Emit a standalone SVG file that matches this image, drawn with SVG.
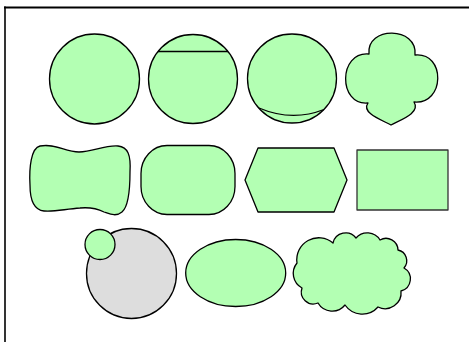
<svg xmlns="http://www.w3.org/2000/svg" width="469" height="342" viewBox="0 0 469 342">
<style>
.s{fill:#b3ffb3;stroke:#000;stroke-width:1.3;stroke-linejoin:round}
.g{fill:#dddddd;stroke:#000;stroke-width:1.3}
.l{fill:none;stroke:#000;stroke-width:1.3}
</style>
<rect width="469" height="342" fill="#fff"/>
<g id="frame">
<line x1="4" y1="7.5" x2="469" y2="7.5" stroke="#000" stroke-width="2"/>
<line x1="5" y1="6.5" x2="5" y2="342" stroke="#000" stroke-width="1.6"/>
</g>
<g id="circle1"><circle class="s" cx="94.5" cy="79" r="45"/></g>
<g id="circle2"><circle class="s" cx="193" cy="79" r="44.5"/><line class="l" x1="158" y1="51.5" x2="228" y2="51.5"/></g>
<g id="circle3"><circle class="s" cx="292" cy="78.5" r="44.5"/><path class="l" d="M259,108 Q292,122 324,109.5"/></g>
<g id="clover"><path class="s" d="M369,54 C366,26 418,26 415,55 C446,52 445,105 414,102 C421,113 400,120 391,125 C382,120 361,113 368,103 C338,106 338,51 369,54 Z"/></g>
<g id="wavy"><path class="s" d="M40,146 C55,143 65,152 79,152 C93,152 104,145 118,146 C128,147 131,155 130,172 C130,190 128,207 122,212 C116,217 110,214 104,212 C96,208 90,207 80,208 C65,209 55,212 44,211 C34,210 30,200 30,185 C29,168 31,148 40,146 Z"/></g>
<g id="roundrect"><rect class="s" x="141" y="145.5" width="94" height="69" rx="26" ry="28"/></g>
<g id="hexagon"><polygon class="s" points="245,180 258,148 334,148 347,180 334,212 258,212"/></g>
<g id="rect"><rect class="s" x="357" y="150" width="91" height="60" style="stroke:#333"/></g>
<g id="bigcircle"><circle class="g" cx="131.5" cy="273.5" r="45"/><circle class="s" cx="100" cy="244.5" r="15"/></g>
<g id="ellipse"><ellipse class="s" cx="235.7" cy="273" rx="50" ry="33.5"/></g>
<g id="cloud"><path class="s" d="M297,263 A22,22 0 0 1 333,243 A13,13 0 0 1 356,238 A15,15 0 0 1 380,240 A12,12 0 0 1 398,250 A11,11 0 0 1 404,268 A12.5,12.5 0 0 1 401,291 A16,16 0 0 1 378,307 A21,21 0 0 1 345,305 A16.5,16.5 0 0 1 318,303 A12,12 0 0 1 302,288 A16.5,16.5 0 0 1 297,263 Z"/></g>
</svg>
